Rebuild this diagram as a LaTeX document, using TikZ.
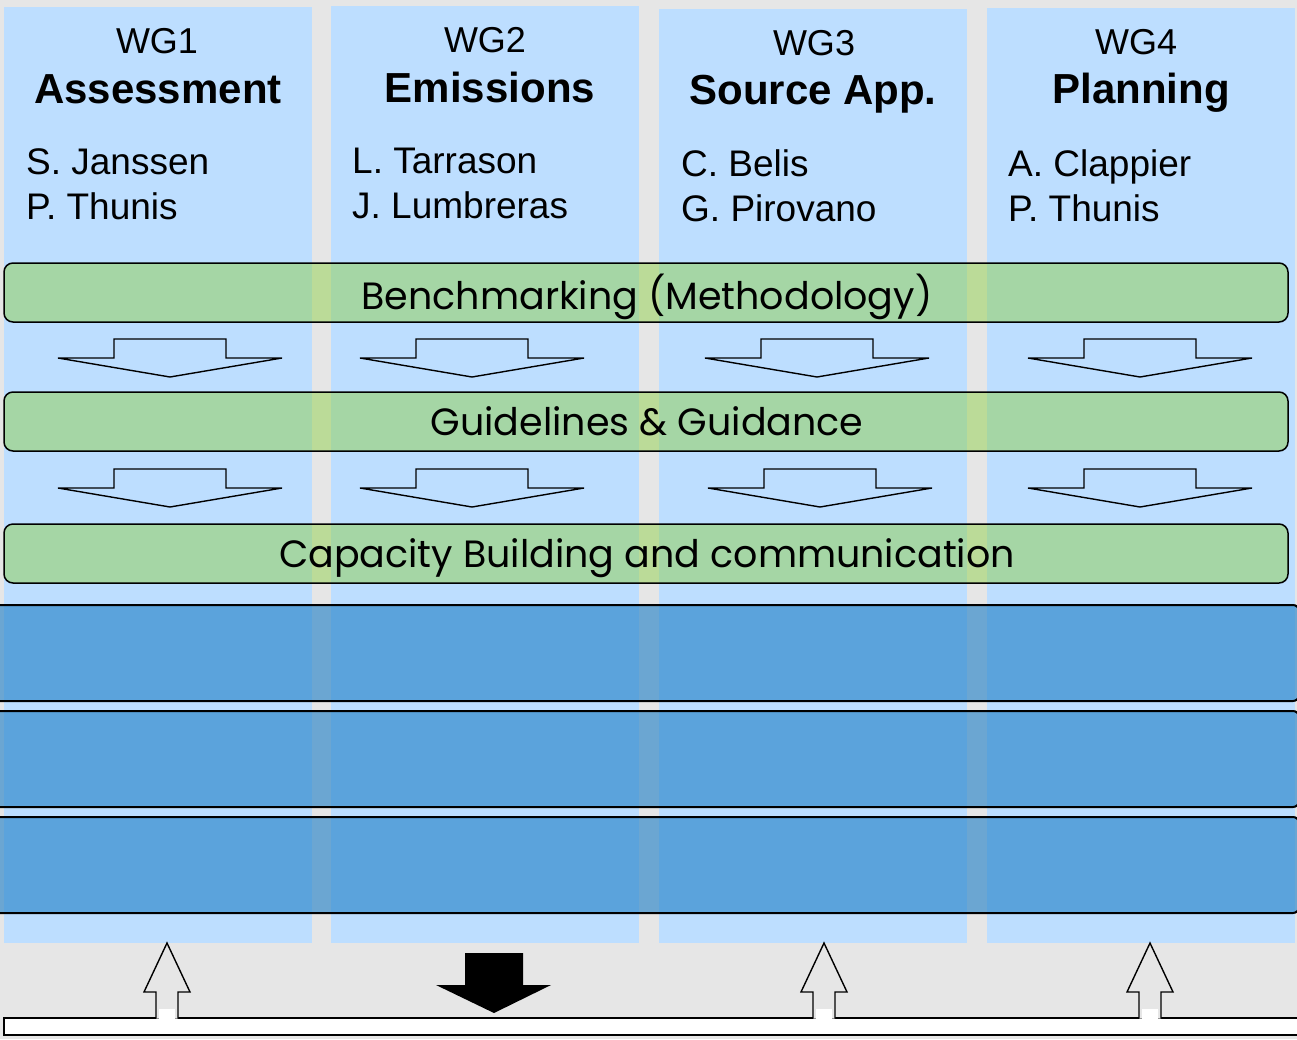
\documentclass[tikz,border=0pt]{standalone}
\usepackage{fontspec}
\setmainfont{Liberation Sans}
\newfontfamily\comicfont{Poppins}
\definecolor{bggrey}{RGB}{230,230,230}
\definecolor{colblue}{RGB}{189,222,255}
\definecolor{bargreen}{RGB}{140,207,65}
\definecolor{bandblue}{RGB}{26,124,198}
\begin{document}
\begin{tikzpicture}[x=1pt,y=-1pt,
  colbox/.style={fill=colblue,draw=none},
  greenbar/.style={draw=black,line width=1.5pt,rounded corners=9pt,fill=bargreen,fill opacity=0.47},
  bandbox/.style={draw=black,line width=2pt,rounded corners=6pt,fill=bandblue,fill opacity=0.6},
  flowarrow/.style={draw=black,line width=1.4pt,line join=miter},
  wgnum/.style={anchor=base,inner sep=0pt,font=\fontsize{36}{40}\selectfont},
  wgtitle/.style={anchor=base,inner sep=0pt,font=\fontsize{42}{46}\selectfont\bfseries},
  names/.style={anchor=base west,inner sep=0pt,align=left,font=\fontsize{37}{45}\selectfont},
  bartext/.style={anchor=base,inner sep=0pt,font=\fontsize{38}{42}\selectfont\comicfont}
]
\useasboundingbox (0,0) rectangle (1297,1039);
\fill[bggrey] (0,0) rectangle (1297,1039);
% columns
\fill[colbox] (4,7) rectangle (312,943);
\fill[colbox] (331,6) rectangle (639,943);
\fill[colbox] (659,9) rectangle (967,943);
\fill[colbox] (987,8) rectangle (1295,943);
% green bars
\draw[greenbar] (4,263) rectangle (1288,322);
\draw[greenbar] (4,392) rectangle (1288,451);
\draw[greenbar] (4,524) rectangle (1288,583);
% down arrows
\foreach \cx/\yy in {170/339,472/339,817/339,1140/339,170/469,472/469,820/469,1140/469}{
  \draw[flowarrow] (\cx-56,\yy) -- (\cx+56,\yy) -- (\cx+56,\yy+19) -- (\cx+112,\yy+19)
     -- (\cx,\yy+38) -- (\cx-112,\yy+19) -- (\cx-56,\yy+19) -- cycle;
}
% dark blue bands
\draw[bandbox] (-12,605) rectangle (1299,701);
\draw[bandbox] (-12,711) rectangle (1299,807);
\draw[bandbox] (-12,817) rectangle (1299,913);
% bottom bar
\draw[fill=white,line width=1.5pt] (1310,1018) -- (4,1018) -- (4,1035) -- (1310,1035);
% up arrows
\foreach \cx in {167,824,1150}{
  \draw[flowarrow,fill=bggrey] (\cx-11,1018.5) -- (\cx-11,992) -- (\cx-23,992) -- (\cx,943)
     -- (\cx+23,992) -- (\cx+11,992) -- (\cx+11,1018.5);
  \fill[white] (\cx-8,1009) rectangle (\cx+8,1019.5);
}
% black down arrow
\fill[black] (465,953) -- (523,953) -- (523,985) -- (551,985) -- (494,1013) -- (436,985) -- (465,985) -- cycle;
% column texts
\node[wgnum] (n1) at (157,53) {WG1};
\node[wgtitle] (t1) at (158,103) {Assessment};
\node[names] (p1a) at (26,174) {S. Janssen};
\node[names] (p1b) at (26,219) {P. Thunis};
\node[wgnum] (n2) at (485,52) {WG2};
\node[wgtitle] (t2) at (490,102) {Emissions};
\node[names] (p2a) at (352,173) {L. Tarrason};
\node[names] (p2b) at (352,218) {J. Lumbreras};
\node[wgnum] (n3) at (814,55) {WG3};
\node[wgtitle] (t3) at (813,104) {Source App.};
\node[names] (p3a) at (681,176) {C. Belis};
\node[names] (p3b) at (681,221) {G. Pirovano};
\node[wgnum] (n4) at (1136,54) {WG4};
\node[wgtitle] (t4) at (1141,103) {Planning};
\node[names] (p4a) at (1008,176) {A. Clappier};
\node[names] (p4b) at (1008,221) {P. Thunis};
% bar texts
\node[bartext] (b1) at (647,309) {Benchmarking (Methodology)};
\node[bartext] (b2) at (647,435) {Guidelines \& Guidance};
\node[bartext] (b3) at (647,567) {Capacity Building and communication};
\end{tikzpicture}
\end{document}
